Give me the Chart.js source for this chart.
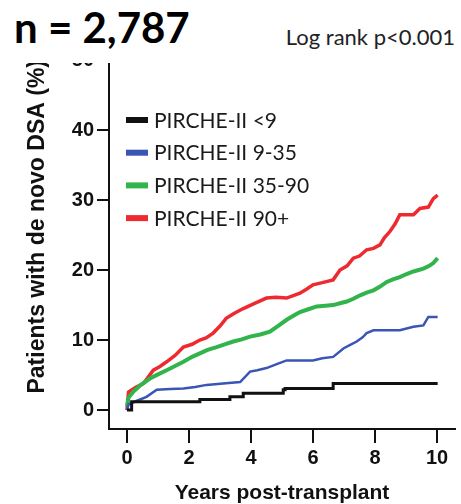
<!DOCTYPE html>
<html>
<head>
<meta charset="utf-8">
<title>de novo DSA by PIRCHE-II score</title>
<script src="https://cdn.jsdelivr.net/npm/chart.js@4.4.1/dist/chart.umd.min.js"></script>
<style>
  html, body { margin: 0; padding: 0; background: #fff; }
  #wrap { position: relative; width: 461px; height: 504px; overflow: hidden; }
  #curves { position: absolute; left: 0; top: 0; }
  #head { position: absolute; left: 0; top: 0; width: 461px; height: 63px; background: #fff; }
  #count { position: absolute; left: 14px; top: 6px; font: bold 42px Lato, sans-serif; line-height: 1; color: #000; }
  #logrank { position: absolute; right: 6px; top: 26px; font: 22px Lato, sans-serif; line-height: 1; color: #222; }
</style>
</head>
<body>
<div id="wrap">
  <canvas id="curves" width="461" height="504"></canvas>
  <div id="head">
    <div id="count">n = 2,787</div>
    <div id="logrank">Log rank p&lt;0.001</div>
  </div>
</div>
<script>
// cumulative incidence of de novo DSA per PIRCHE-II group
var groupNames = ['PIRCHE-II <9', 'PIRCHE-II 9-35', 'PIRCHE-II 35-90', 'PIRCHE-II 90+'];
var groupColors = ['#111111', '#3a55b4', '#31b44b', '#ee2a30'];

var yearsLt9 = [0, 0.15, 2.35, 3.32, 3.75, 5.04, 5.1, 6.65, 10.02];
var pctLt9   = [0, 1.2, 1.5, 1.9, 2.4, 2.9, 3.1, 3.8, 3.8];

var years9to35 = [0, 0.05, 0.3, 0.63, 0.96, 1.4, 1.82, 2.2, 2.57, 3.1, 3.65, 3.97, 4.2, 4.5, 4.85, 5.15,
                  6.0, 6.3, 6.65, 6.98, 7.2, 7.41, 7.6, 7.73, 7.95, 8.8, 9.24, 9.56, 9.72, 10.02];
var pct9to35   = [0, 0.8, 1.3, 1.9, 2.9, 3.0, 3.1, 3.3, 3.6, 3.8, 4.0, 5.5, 5.7, 6.0, 6.6, 7.1,
                  7.1, 7.4, 7.6, 8.8, 9.3, 9.8, 10.4, 11.0, 11.4, 11.4, 11.9, 12.1, 13.3, 13.3];

var years35to90 = [0, 0.05, 0.2, 0.45, 0.74, 1.0, 1.28, 1.55, 1.82, 2.1, 2.35, 2.6, 2.89, 3.15, 3.43, 3.7,
                   3.97, 4.3, 4.61, 4.9, 5.15, 5.38, 5.58, 5.85, 6.12, 6.4, 6.65, 6.9, 7.09, 7.3, 7.52,
                   7.75, 7.95, 8.15, 8.38, 8.6, 8.8, 9.0, 9.24, 9.56, 9.75, 9.88, 10.02];
var pct35to90   = [0.5, 1.8, 2.6, 3.6, 4.5, 5.1, 5.7, 6.3, 6.9, 7.6, 8.1, 8.6, 9.0, 9.4, 9.8, 10.1,
                   10.5, 10.8, 11.2, 12.1, 12.9, 13.5, 14.0, 14.4, 14.8, 14.9, 15.0, 15.3, 15.5, 15.9, 16.4,
                   16.8, 17.1, 17.6, 18.3, 18.7, 19.0, 19.4, 19.8, 20.2, 20.6, 21.0, 21.7];

var years90 = [0, 0.05, 0.3, 0.53, 0.85, 1.05, 1.28, 1.55, 1.82, 2.1, 2.35, 2.55, 2.78, 3.0, 3.2, 3.45,
               3.75, 4.1, 4.5, 4.8, 5.15, 5.58, 5.8, 6.0, 6.3, 6.65, 6.87, 7.1, 7.3, 7.5, 7.73, 7.95,
               8.16, 8.3, 8.48, 8.65, 8.8, 9.24, 9.45, 9.72, 9.88, 10.02];
var pct90   = [0, 2.6, 3.3, 3.8, 5.7, 6.2, 6.9, 7.8, 9.0, 9.4, 10.0, 10.3, 11.0, 12.0, 13.1, 13.8,
               14.5, 15.2, 16.0, 16.1, 16.0, 16.7, 17.3, 17.9, 18.2, 18.6, 20.0, 20.6, 21.7, 22.0, 22.9, 23.1,
               23.6, 24.6, 25.5, 26.6, 27.9, 27.9, 28.8, 29.0, 30.2, 30.7];

var yearTicks = [0, 2, 4, 6, 8, 10];
var pctTicks = [0, 10, 20, 30, 40, 50];

function toPoints(xs, ys) {
    var pts = [];
    for (var i = 0; i < xs.length; i++) {
        pts.push({x: xs[i], y: ys[i]});
    }
    return pts;
}

var seriesYears = [yearsLt9, years9to35, years35to90, years90];
var seriesPct = [pctLt9, pct9to35, pct35to90, pct90];
var lineWidths = [3, 2.5, 4, 3.5];

var datasets = [];
for (var i = 0; i < groupNames.length; i++) {
    datasets.push({
        label: groupNames[i],
        data: toPoints(seriesYears[i], seriesPct[i]),
        borderColor: groupColors[i],
        backgroundColor: groupColors[i],
        borderWidth: lineWidths[i],
        pointRadius: 0,
        stepped: i === 0,
        tension: 0
    });
}

// legend drawn inside the plot, short thick bars + labels
var innerLegend = {
    id: 'innerLegend',
    afterDraw: function(chart) {
        var ctx = chart.ctx;
        var left = chart.chartArea.left + 17;
        ctx.save();
        ctx.font = '21px Lato, sans-serif';
        ctx.textBaseline = 'middle';
        chart.data.datasets.forEach(function(ds, i) {
            var y = 120 + i * 32.7;
            ctx.fillStyle = ds.borderColor;
            ctx.fillRect(left, y - 3, 22, 6);
            ctx.fillStyle = '#1a1a1a';
            ctx.fillText(ds.label, left + 28, y + 1);
        });
        ctx.restore();
    }
};

var axisFont = {family: 'Liberation Sans, Arial, sans-serif', weight: 'bold'};

var ctx = document.getElementById('curves').getContext('2d');
var dsaChart = new Chart(ctx, {
    type: 'line',
    data: {datasets: datasets},
    plugins: [innerLegend],
    options: {
        responsive: false,
        animation: false,
        layout: {padding: {top: 60, right: 6, left: 0, bottom: 0}},
        plugins: {
            legend: {display: false},
            tooltip: {enabled: false}
        },
        scales: {
            x: {
                type: 'linear',
                min: -0.58,
                max: 10.58,
                afterBuildTicks: function(scale) {
                    scale.ticks = yearTicks.map(function(v) { return {value: v}; });
                },
                afterFit: function(scale) { scale.height = 75; },
                border: {display: true, color: '#111', width: 2},
                grid: {drawOnChartArea: false, drawTicks: true, tickLength: 14, color: '#111', lineWidth: 2},
                ticks: {color: '#111', padding: 3, maxRotation: 0, font: Object.assign({size: 20}, axisFont)},
                title: {
                    display: true,
                    text: 'Years post-transplant',
                    color: '#111',
                    padding: {top: 0, bottom: 0},
                    font: Object.assign({size: 21, lineHeight: 1.0}, axisFont)
                }
            },
            y: {
                type: 'linear',
                min: -2.7,
                max: 50,
                afterBuildTicks: function(scale) {
                    scale.ticks = pctTicks.map(function(v) { return {value: v}; });
                },
                afterFit: function(scale) { scale.width = 109; },
                border: {display: true, color: '#111', width: 2},
                grid: {drawOnChartArea: false, drawTicks: true, tickLength: 12, color: '#111', lineWidth: 2},
                ticks: {color: '#111', padding: 3, font: Object.assign({size: 20}, axisFont)},
                title: {
                    display: true,
                    text: 'Patients with de novo DSA (%)',
                    align: 'end',
                    color: '#111',
                    padding: {top: 24, bottom: 0},
                    font: Object.assign({size: 23}, axisFont)
                }
            }
        }
    }
});
</script>
</body>
</html>
